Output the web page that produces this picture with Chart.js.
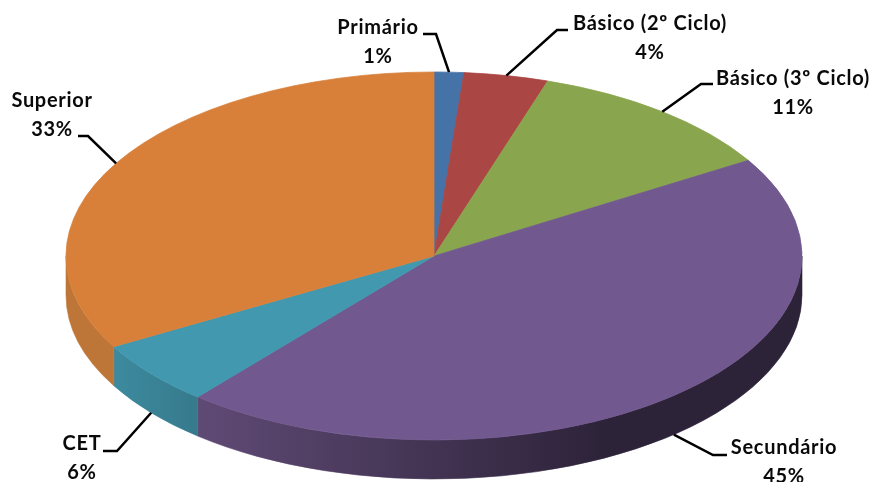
<!DOCTYPE html>
<html>
<head>
<meta charset="utf-8">
<style>html,body{margin:0;padding:0;background:#fff}canvas{display:block}</style>
<script src="https://cdn.jsdelivr.net/npm/chart.js@4"></script>
</head>
<body>
<canvas id="c" width="873" height="482"></canvas>
<script>
const categories = ["Primário","Básico (2º Ciclo)","Básico (3º Ciclo)","Secundário","CET","Superior"];
const shares = [1.3,3.7,11.3,44.8,5.7,33.2];
const percentLabels = ["1%","4%","11%","45%","6%","33%"];
const topColors = ["#4572a7","#aa4643","#89a54e","#71588f","#4198af","#d8803a"];
const wallFrom = ["#3a5f8b","#8d3a38","#72893f","#5f4a75","#3d8a9e","#bd7637"];
const wallTo = ["#3a5f8b","#8d3a38","#72893f","#2d2339","#367a8c","#bd7637"];
const labelCentreX = [378,650,793,784,82,52];
const labelFirstLineY = [28,24,79,448,444,101];
const elbowX = [436,557,701,713,117,88];
const elbowY = [34,30,84,455,451,136];
const leaderEndX = [423,568,713,727,103,78];

const squash = 2, depth = 39, lineGap = 29;

const pie3d = {
  id: "pie3d",
  beforeDatasetsDraw(chart) {
    const ctx = chart.ctx, arcs = chart.getDatasetMeta(0).data;
    arcs.forEach((arc, i) => {
      const a0 = Math.max(arc.startAngle, 0), a1 = Math.min(arc.endAngle, Math.PI);
      if (a1 <= a0) return;
      const rx = arc.outerRadius * squash, ry = arc.outerRadius;
      const xa = arc.x + rx * Math.cos(a0), xb = arc.x + rx * Math.cos(a1);
      const span = i === 3 ? Math.min(xa, arc.x + 170) : xa;
      const grad = ctx.createLinearGradient(xb, 0, span, 0);
      grad.addColorStop(0, wallFrom[i]);
      grad.addColorStop(1, wallTo[i]);
      ctx.save();
      ctx.beginPath();
      ctx.ellipse(arc.x, arc.y, rx, ry, 0, a0, a1);
      ctx.ellipse(arc.x, arc.y + depth, rx, ry, 0, a1, a0, true);
      ctx.closePath();
      ctx.fillStyle = grad;
      ctx.strokeStyle = grad;
      ctx.lineWidth = 0.6;
      ctx.fill();
      ctx.stroke();
      ctx.restore();
    });
    const cx = arcs[0].x;
    ctx.save();
    ctx.translate(cx, 0);
    ctx.scale(squash, 1);
    ctx.translate(-cx, 0);
  },
  afterDatasetsDraw(chart) {
    const ctx = chart.ctx, arcs = chart.getDatasetMeta(0).data;
    ctx.restore();
    ctx.save();
    ctx.strokeStyle = "#000";
    ctx.lineWidth = 2.5;
    ctx.lineJoin = "miter";
    ctx.font = "bold 20px Lato, 'Open Sans', sans-serif";
    ctx.letterSpacing = "0.7px";
    ctx.textAlign = "center";
    ctx.textBaseline = "middle";
    arcs.forEach((arc, i) => {
      const mid = (arc.startAngle + arc.endAngle) / 2;
      const rimX = arc.x + arc.outerRadius * squash * Math.cos(mid);
      const sinM = Math.sin(mid);
      const rimY = arc.y + arc.outerRadius * sinM + (sinM > 0 ? depth : 0);
      ctx.beginPath();
      ctx.moveTo(leaderEndX[i], elbowY[i]);
      ctx.lineTo(elbowX[i], elbowY[i]);
      ctx.lineTo(rimX, rimY);
      ctx.stroke();
      ctx.fillStyle = "#0a0a0a";
      ctx.fillText(categories[i], labelCentreX[i], labelFirstLineY[i]);
      ctx.fillText(percentLabels[i], labelCentreX[i], labelFirstLineY[i] + lineGap);
    });
    ctx.restore();
  }
};

new Chart(document.getElementById("c"), {
  type: "pie",
  data: {
    labels: categories,
    datasets: [{
      data: shares,
      backgroundColor: topColors,
      borderColor: topColors,
      borderWidth: 0.5,
      clip: false
    }]
  },
  options: {
    responsive: false,
    animation: false,
    radius: 184,
    layout: { padding: { top: 30, right: 5, left: 0, bottom: 0 } },
    plugins: { legend: { display: false }, tooltip: { enabled: false }, title: { display: false } }
  },
  plugins: [pie3d]
});
</script>
</body>
</html>
